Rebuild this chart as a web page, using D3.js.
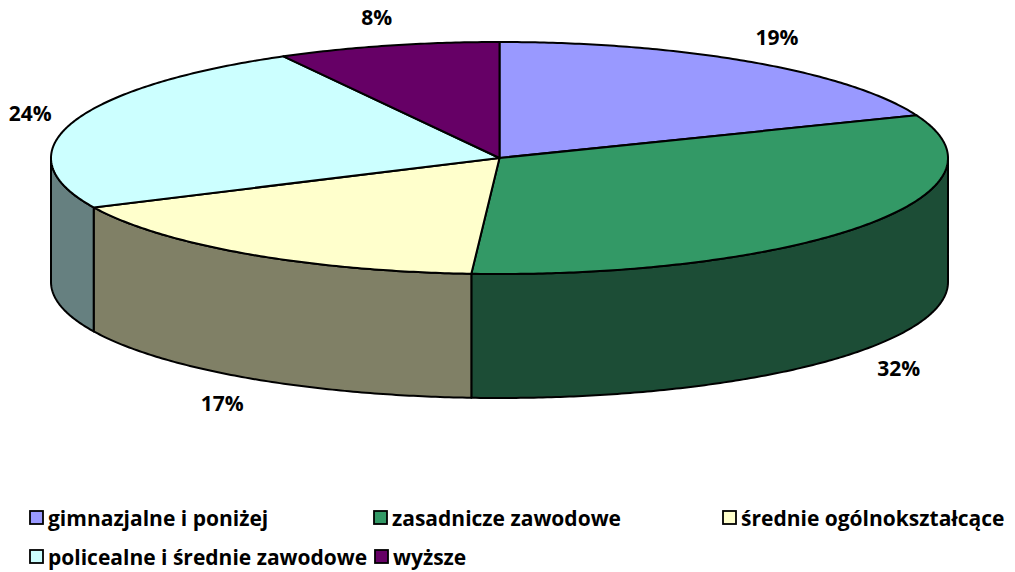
<!DOCTYPE html>
<html><head><meta charset="utf-8">
<script src="https://cdn.jsdelivr.net/npm/d3@7"></script>
<style>body{margin:0;background:#fff}svg{display:block}text{font-family:"Open Sans",sans-serif;font-weight:700;fill:#000}</style>
</head><body><svg id="c" width="1015" height="572"></svg>
<script>
const categories = ["gimnazjalne i poniżej","zasadnicze zawodowe","średnie ogólnokształcące","policealne i średnie zawodowe","wyższe"];
const values = [19,32,17,24,8];
const colors = ["#9999FF","#339966","#FFFFCC","#CCFFFF","#660066"];
const sideColors = ["#4d4d80","#1c4d36","#808066","#668080","#330033"];

const svg = d3.select("#c");
const cx = 499.5, cy = 158, rx = 448.5, ry = 116, depth = 124;
const total = d3.sum(values);
const pie = d3.pie().sort(null).value(d => d)(values);
const P = (t, dy=0) => [cx + rx*Math.sin(t), cy - ry*Math.cos(t) + dy];
function arcPts(a, b, dy=0){const n=Math.max(2,Math.ceil(Math.abs(b-a)/0.01));return d3.range(n+1).map(i=>P(a+(b-a)*i/n,dy));}
const line = d3.line();

const gs = svg.append("g");
pie.forEach((d,i)=>{
  const a = Math.max(d.startAngle, Math.PI/2), b = Math.min(d.endAngle, 3*Math.PI/2);
  if (b <= a) return;
  const pts = arcPts(a,b).concat(arcPts(b,a,depth));
  gs.append("path").attr("d", line(pts)+"Z").attr("fill", sideColors[i])
    .attr("stroke","#000").attr("stroke-width",2).attr("stroke-linejoin","round");
});
const gt = svg.append("g");
pie.forEach((d,i)=>{
  const pts = [[cx,cy]].concat(arcPts(d.startAngle,d.endAngle));
  gt.append("path").attr("d", line(pts)+"Z").attr("fill", colors[i])
    .attr("stroke","#000").attr("stroke-width",2).attr("stroke-linejoin","round");
});
pie.forEach((d,i)=>{
  const m = (d.startAngle+d.endAngle)/2;
  const x = cx + (rx+45)*Math.sin(m);
  let y = cy - (ry+30)*Math.cos(m);
  if (Math.cos(m) < 0) y += depth;
  svg.append("text").attr("x",x).attr("y",y).attr("text-anchor","middle").attr("dominant-baseline","central")
    .attr("font-size",21).text(d3.format(".0%")(values[i]/total));
});
const legPos = [[30,518],[374,518],[723,518],[30,557],[375,557]];
categories.forEach((c,i)=>{
  const [x,y] = legPos[i];
  svg.append("rect").attr("x",x).attr("y",y-7).attr("width",13).attr("height",13)
    .attr("fill",colors[i]).attr("stroke","#000").attr("stroke-width",1.8);
  svg.append("text").attr("x",x+18).attr("y",y).attr("dominant-baseline","central").attr("font-size",21).text(c);
});
</script></body></html>
